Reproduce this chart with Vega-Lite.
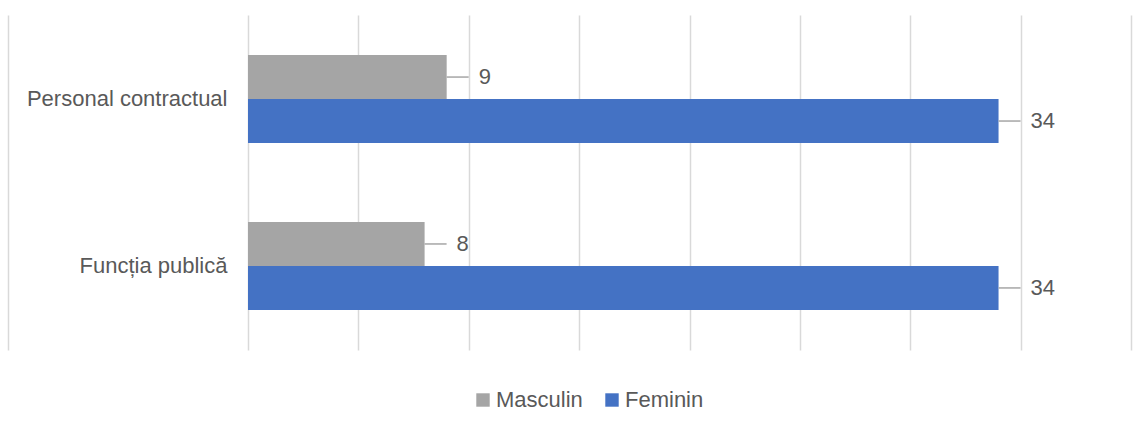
{
  "$schema": "https://vega.github.io/schema/vega-lite/v6.json",
  "width": 883,
  "height": 335,
  "autosize": {"type": "none"},
  "padding": {"left": 248, "top": 15, "right": 14, "bottom": 80},
  "background": "white",
  "config": {"view": {"stroke": null}, "font": "Liberation Sans"},
  "data": {
    "values": [
      {"Categorie": "Personal contractual", "Gen": "Masculin", "Valoare": 9},
      {"Categorie": "Personal contractual", "Gen": "Feminin", "Valoare": 34},
      {"Categorie": "Funcția publică", "Gen": "Masculin", "Valoare": 8},
      {"Categorie": "Funcția publică", "Gen": "Feminin", "Valoare": 34}
    ]
  },
  "encoding": {
    "y": {
      "field": "Categorie",
      "type": "nominal",
      "sort": ["Personal contractual", "Funcția publică"],
      "scale": {"paddingInner": 0.473, "paddingOuter": 0.24},
      "axis": {
        "title": null,
        "ticks": false,
        "domain": true,
        "domainColor": "#d9d9d9",
        "domainWidth": 1.5,
        "offset": 240,
        "labelPadding": -219,
        "labelLimit": 400,
        "labelFontSize": 22,
        "labelColor": "#595959",
        "labelFont": "Liberation Sans"
      }
    },
    "yOffset": {
      "field": "Gen",
      "sort": ["Masculin", "Feminin"],
      "scale": {"paddingInner": 0, "paddingOuter": 0}
    },
    "x": {
      "field": "Valoare",
      "type": "quantitative",
      "scale": {"domain": [0, 40]},
      "axis": {
        "title": null,
        "values": [0, 5, 10, 15, 20, 25, 30, 35, 40],
        "labels": false,
        "ticks": false,
        "domain": false,
        "grid": true,
        "gridColor": "#d9d9d9",
        "gridWidth": 1.5
      }
    }
  },
  "layer": [
    {
      "mark": {"type": "bar"},
      "encoding": {
        "color": {
          "field": "Gen",
          "type": "nominal",
          "scale": {"domain": ["Masculin", "Feminin"], "range": ["#A5A5A5", "#4472C4"]},
          "legend": {
            "title": null,
            "orient": "none",
            "direction": "horizontal",
            "legendX": 224,
            "legendY": 374,
            "symbolType": "square",
            "symbolSize": 180,
            "symbolStrokeWidth": 0,
            "labelFontSize": 22,
            "labelColor": "#595959",
            "labelFont": "Liberation Sans",
            "labelOffset": 2,
            "columnPadding": 18
          }
        }
      }
    },
    {
      "mark": {"type": "point", "shape": "M0,0H1", "size": 1936, "filled": false, "color": "#a6a6a6", "strokeWidth": 1.5, "opacity": 1}
    },
    {
      "mark": {"type": "text", "align": "left", "baseline": "middle", "dx": 32, "fontSize": 22, "color": "#595959", "font": "Liberation Sans"},
      "encoding": {"text": {"field": "Valoare", "type": "quantitative"}}
    }
  ]
}
